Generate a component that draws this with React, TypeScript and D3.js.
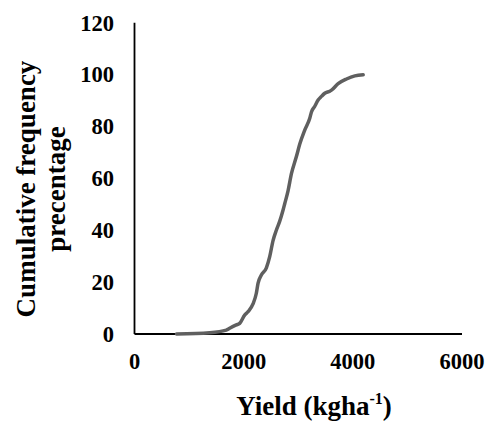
import React from "react";
import * as d3 from "d3";

const yieldValues = [770, 1376, 1682, 1743, 1865, 1927, 2018, 2080, 2171, 2232, 2263, 2324, 2416, 2477, 2538, 2600, 2661, 2722, 2752, 2813, 2875, 2966, 3028, 3119, 3211, 3242, 3303, 3364, 3425, 3486, 3578, 3609, 3731, 3884, 4037, 4190];
const cumFreq = [0, 0.5, 1.5, 2.2, 3.5, 4.1, 7.3, 8.6, 11.6, 15.7, 19.5, 22.7, 25.5, 29.8, 36.0, 40.1, 43.5, 47.8, 50.2, 55.2, 61.8, 68.4, 73.2, 78.6, 83.2, 85.6, 87.8, 90.2, 91.6, 92.8, 93.6, 94.0, 96.5, 98.3, 99.5, 99.9];
const xTicks = [0, 2000, 4000, 6000];
const yTicks = [0, 20, 40, 60, 80, 100, 120];

const W = 487;
const H = 421;
const FONT = "'Liberation Serif', 'Times New Roman', serif";

export default function App() {
  const x = d3.scaleLinear().domain([0, 6000]).range([134.5, 462]);
  const y = d3.scaleLinear().domain([0, 120]).range([334, 22.7]);
  const pts: [number, number][] = yieldValues.map((v, i) => [v, cumFreq[i]]);
  const line = d3
    .line<[number, number]>()
    .x((d) => x(d[0]))
    .y((d) => y(d[1]))
    .curve(d3.curveMonotoneX);

  return (
    <svg
      width={W}
      height={H}
      style={{ position: "absolute", left: 0, top: 0, background: "#fff" }}
      fontFamily={FONT}
      fontWeight="bold"
    >
      <rect x={0} y={0} width={W} height={H} fill="#fff" />
      <line x1={x(0)} x2={x(0)} y1={y(120)} y2={y(0)} stroke="#000" strokeWidth={1.8} />
      <line x1={x(0)} x2={x(6000)} y1={y(0)} y2={y(0)} stroke="#000" strokeWidth={1.8} />
      {yTicks.map((t) => (
        <text key={"y" + t} x={114} y={y(t)} dy="0.35em" textAnchor="end" fontSize={22.5} fill="#000">
          {t}
        </text>
      ))}
      {xTicks.map((t) => (
        <text key={"x" + t} x={x(t)} y={369} textAnchor="middle" fontSize={22.5} fill="#000">
          {t}
        </text>
      ))}
      <path d={line(pts) || ""} fill="none" stroke="#5f5f5f" strokeWidth={3.5} strokeLinecap="round" strokeLinejoin="round" />
      <text x={314} y={415} textAnchor="middle" fontSize={27} fill="#000">
        Yield (kgha
        <tspan fontSize={16} dy={-11}>-1</tspan>
        <tspan dy={11}>)</tspan>
      </text>
      <text transform="translate(35,189) rotate(-90)" textAnchor="middle" fontSize={27} fill="#000">
        Cumulative frequency
      </text>
      <text transform="translate(65,189) rotate(-90)" textAnchor="middle" fontSize={27} fill="#000">
        precentage
      </text>
    </svg>
  );
}
